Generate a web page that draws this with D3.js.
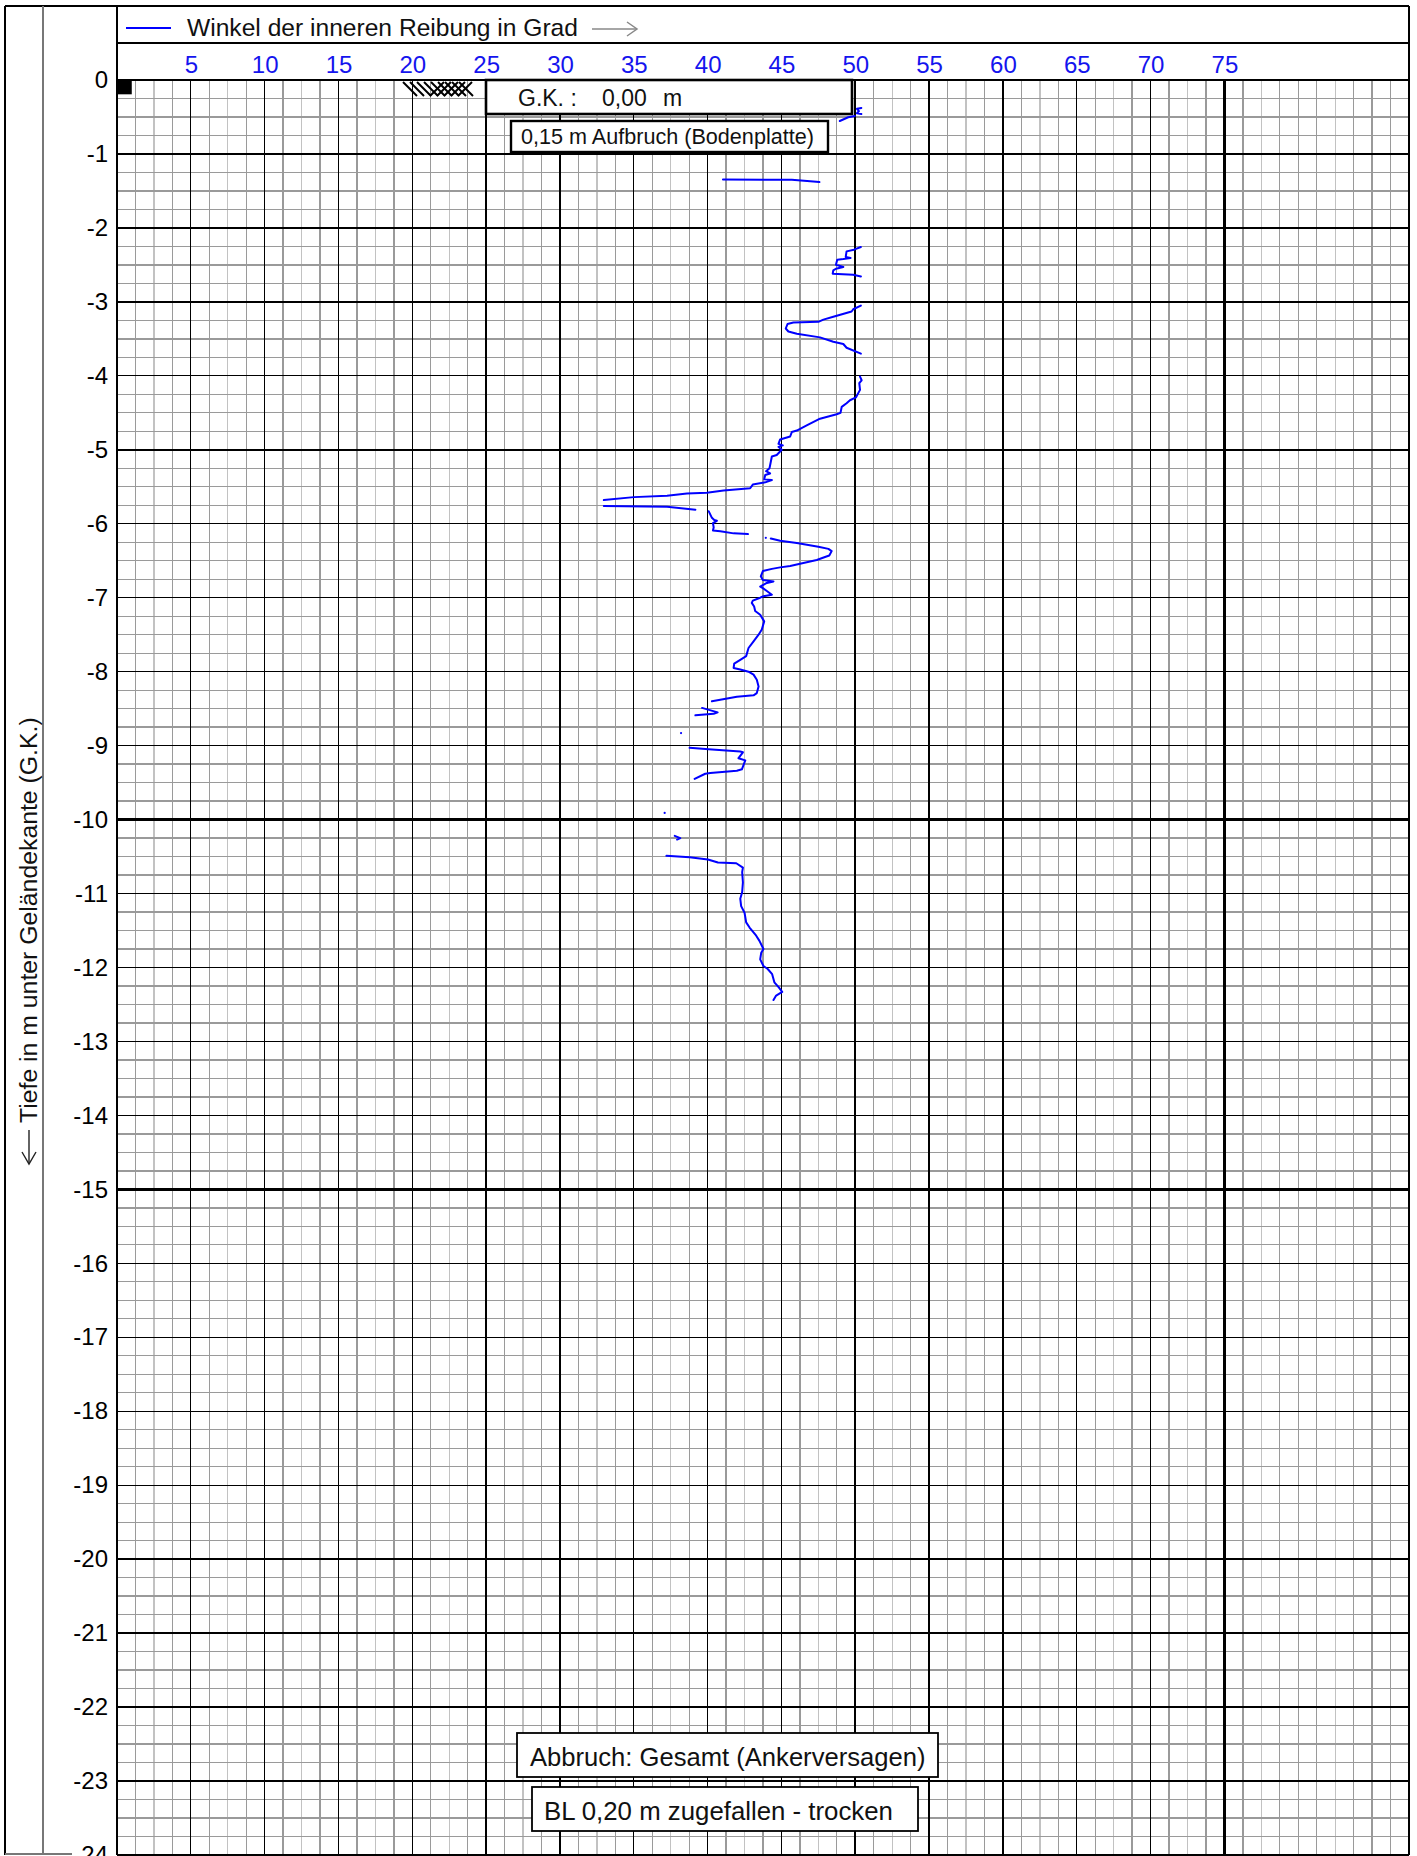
<!DOCTYPE html>
<html>
<head>
<meta charset="utf-8">
<script src="https://cdn.jsdelivr.net/npm/d3@7"></script>
<style>
  body { margin: 0; background: #fff; }
  svg { display: block; }
  text { font-family: "Liberation Sans", Arial, sans-serif; }
</style>
</head>
<body>
<svg id="chart" width="1417" height="1856"></svg>
<script>
// Tick values on both axes
const angleTicks = [5, 10, 15, 20, 25, 30, 35, 40, 45, 50, 55, 60, 65, 70, 75];
const depthTicks = d3.range(0, -25, -1);

// Probe trace: friction angle (degrees) against depth (m below ground level)
const traceTop1 = [[50.41, -0.378], [50.11, -0.39], [50.25, -0.42], [50.11, -0.45], [50.41, -0.46]];
const traceTop2 = [[48.95, -0.554], [49.52, -0.504], [49.97, -0.486]];
const trace1 = [[41.04, -1.344], [45.7, -1.35], [47.57, -1.38]];
const trace2 = [[50.38, -2.258], [49.91, -2.294], [49.41, -2.317], [49.35, -2.394], [49.68, -2.407],
  [49.19, -2.421], [48.78, -2.43], [48.69, -2.498], [49.19, -2.529], [48.69, -2.552], [48.51, -2.575],
  [48.47, -2.62], [49.86, -2.633], [50.38, -2.656]];
const trace3 = [[50.38, -3.05], [49.86, -3.10], [49.75, -3.13], [48.51, -3.20], [47.84, -3.24],
  [47.5, -3.27], [45.81, -3.28], [45.41, -3.30], [45.29, -3.36], [45.47, -3.40], [46.04, -3.43],
  [47.61, -3.48], [48.51, -3.54], [49.19, -3.57], [49.41, -3.62], [50.38, -3.70]];
const trace4 = [[50.32, -4.01], [50.43, -4.06], [50.27, -4.10], [50.32, -4.19], [50.05, -4.29],
  [49.64, -4.33], [49.41, -4.37], [49.08, -4.42], [49.0, -4.50], [48.74, -4.52], [47.61, -4.58],
  [46.71, -4.67], [46.04, -4.74], [45.7, -4.76], [45.59, -4.82], [44.91, -4.86], [44.8, -4.92],
  [45.09, -4.94], [44.8, -4.96], [45.02, -5.0], [44.68, -5.07], [44.35, -5.09], [44.19, -5.25],
  [43.96, -5.29], [44.23, -5.32], [43.9, -5.34], [43.83, -5.40], [44.35, -5.41], [43.9, -5.44],
  [43.06, -5.47], [42.88, -5.52], [41.08, -5.55], [39.95, -5.58], [38.6, -5.59], [37.25, -5.62],
  [35.0, -5.64], [32.97, -5.68]];
const trace5 = [[32.97, -5.76], [37.25, -5.77], [39.17, -5.81]];
const trace6 = [[40.07, -5.83], [40.29, -5.92], [40.45, -5.95], [40.63, -5.96], [40.36, -5.99],
  [40.41, -6.05], [40.36, -6.09], [40.86, -6.10], [41.76, -6.13], [42.73, -6.14]];
const trace7 = [[44.28, -6.20], [44.91, -6.23], [46.04, -6.26], [47.5, -6.31], [48.18, -6.34],
  [48.4, -6.37], [48.24, -6.43], [47.95, -6.45], [47.39, -6.49], [46.26, -6.54], [45.59, -6.57],
  [44.91, -6.59], [44.35, -6.61], [43.74, -6.64], [43.6, -6.71], [43.74, -6.76], [44.46, -6.78],
  [44.01, -6.80], [43.56, -6.85], [43.74, -6.87], [44.01, -6.91], [44.35, -6.96], [43.78, -6.98],
  [43.56, -7.00], [43.06, -7.04], [42.99, -7.07], [43.15, -7.12], [43.22, -7.18], [43.56, -7.23],
  [43.83, -7.32], [43.67, -7.43], [43.45, -7.50], [43.11, -7.59], [42.77, -7.68], [42.61, -7.79],
  [42.21, -7.84], [41.8, -7.89], [41.76, -7.95], [42.21, -7.97], [42.77, -8.0], [43.11, -8.04],
  [43.33, -8.11], [43.45, -8.20], [43.33, -8.29], [43.11, -8.32], [41.98, -8.34], [40.29, -8.40]];
const trace8 = [[39.62, -8.49], [40.68, -8.55], [40.41, -8.57], [39.17, -8.59]];
const trace9 = [[38.78, -9.03], [40.07, -9.05], [42.21, -9.08], [42.39, -9.09], [42.09, -9.17],
  [42.55, -9.20], [42.32, -9.32], [41.98, -9.34], [40.18, -9.37], [39.84, -9.38], [39.12, -9.45]];
const trace10 = [[37.77, -10.22], [38.15, -10.25], [37.93, -10.27]];
const trace11 = [[37.21, -10.49], [38.78, -10.51], [40.02, -10.54], [40.7, -10.58], [41.94, -10.59],
  [42.39, -10.65], [42.34, -10.71], [42.39, -10.85], [42.34, -10.98], [42.21, -11.07], [42.27, -11.17],
  [42.5, -11.26], [42.61, -11.39], [42.84, -11.46], [43.29, -11.57], [43.51, -11.64], [43.78, -11.75],
  [43.63, -11.80], [43.56, -11.89], [43.78, -11.98], [44.07, -12.02], [44.37, -12.09], [44.52, -12.20],
  [44.82, -12.27], [45.05, -12.33], [44.64, -12.38], [44.46, -12.44]];
const traceDots = [[43.94, -6.19], [38.2, -8.83], [37.09, -9.91]];

const traces = [traceTop1, traceTop2, trace1, trace2, trace3, trace4, trace5, trace6,
  trace7, trace8, trace9, trace10, trace11];

// Text annotations
const legendLabel = "Winkel der inneren Reibung in Grad";
const axisTitle = "Tiefe in m unter Geländekante (G.K.)";
const boxTop1 = ["G.K. :", "0,00", "m"];
const boxTop2 = "0,15 m Aufbruch (Bodenplatte)";
const boxBottom1 = "Abbruch: Gesamt (Ankerversagen)";
const boxBottom2 = "BL 0,20 m zugefallen - trocken";

const svg = d3.select("#chart");
const L = 117, R = 1409, T = 80, B = 1855;
const x = d3.scaleLinear().domain([0, 87.5]).range([L, R]);
const y = d3.scaleLinear().domain([0, -24]).range([T, B]);

svg.append("rect").attr("width", 1417).attr("height", 1856).attr("fill", "#fff");

// ---- grid ----
const grid = svg.append("g").attr("shape-rendering", "crispEdges");
// minor verticals every 1.25 deg
d3.range(1, 70).forEach(k => {
  const v = k * 1.25;
  if (k % 4 === 0 && v <= 75) return;
  grid.append("line")
    .attr("x1", x(v)).attr("x2", x(v)).attr("y1", T).attr("y2", B)
    .attr("stroke", k % 4 === 2 ? "#c2c2c2" : "#9a9a9a").attr("stroke-width", 1.3);
});
// minor horizontals every 0.25 m
d3.range(1, 96).forEach(k => {
  if (k % 4 === 0) return;
  const v = -k * 0.25;
  grid.append("line")
    .attr("x1", L).attr("x2", R).attr("y1", y(v)).attr("y2", y(v))
    .attr("stroke", "#9a9a9a").attr("stroke-width", 1.3);
});
// major verticals every 5 deg
angleTicks.forEach(v => {
  grid.append("line")
    .attr("x1", x(v)).attr("x2", x(v)).attr("y1", T).attr("y2", B)
    .attr("stroke", "#000").attr("stroke-width", v % 25 === 0 ? 2.4 : 1.3);
});
// major horizontals every metre
depthTicks.slice(1).forEach(v => {
  grid.append("line")
    .attr("x1", L).attr("x2", R).attr("y1", y(v)).attr("y2", y(v))
    .attr("stroke", "#000").attr("stroke-width", v % 5 === 0 ? 2.4 : 1.3);
});

// ---- frame ----
const frame = svg.append("g").attr("fill", "none").attr("shape-rendering", "crispEdges");
frame.append("line").attr("x1", 5).attr("x2", R).attr("y1", 6).attr("y2", 6).attr("stroke", "#000").attr("stroke-width", 2.5);
frame.append("line").attr("x1", 5).attr("x2", 5).attr("y1", 6).attr("y2", B).attr("stroke", "#000").attr("stroke-width", 2.5);
frame.append("line").attr("x1", 43).attr("x2", 43).attr("y1", 6).attr("y2", B).attr("stroke", "#777").attr("stroke-width", 1.6);
frame.append("line").attr("x1", 5).attr("x2", 72).attr("y1", 1854).attr("y2", 1854).attr("stroke", "#777").attr("stroke-width", 1.6);
frame.append("line").attr("x1", L).attr("x2", L).attr("y1", 6).attr("y2", B).attr("stroke", "#000").attr("stroke-width", 2.6);
frame.append("line").attr("x1", R).attr("x2", R).attr("y1", 6).attr("y2", B).attr("stroke", "#000").attr("stroke-width", 2.6);
frame.append("line").attr("x1", L).attr("x2", R).attr("y1", 43).attr("y2", 43).attr("stroke", "#000").attr("stroke-width", 1.4);
frame.append("line").attr("x1", L).attr("x2", R).attr("y1", T).attr("y2", T).attr("stroke", "#000").attr("stroke-width", 2.6);

// ---- axes ----
const xAxis = svg.append("g").attr("transform", `translate(0,${T})`)
  .call(d3.axisTop(x).tickValues(angleTicks).tickSize(0).tickPadding(7));
xAxis.select(".domain").remove();
xAxis.selectAll("text").attr("font-size", 24).attr("fill", "#1414ee")
  .style("font-family", '"Liberation Sans", Arial, sans-serif');

const yAxis = svg.append("g").attr("transform", `translate(${L},0)`)
  .call(d3.axisLeft(y).tickValues(depthTicks).tickSize(0).tickPadding(9).tickFormat(d => String(d)));
yAxis.select(".domain").remove();
yAxis.selectAll("text").attr("font-size", 24).attr("fill", "#000")
  .style("font-family", '"Liberation Sans", Arial, sans-serif');

// ---- legend ----
svg.append("line").attr("x1", 126).attr("x2", 171).attr("y1", 28).attr("y2", 28)
  .attr("stroke", "#0000ff").attr("stroke-width", 2);
svg.append("text").attr("x", 187).attr("y", 36).attr("font-size", 24.6).attr("fill", "#111").text(legendLabel);
const arrow = svg.append("g").attr("stroke", "#888").attr("stroke-width", 1.5).attr("fill", "none");
arrow.append("line").attr("x1", 592).attr("x2", 637).attr("y1", 29).attr("y2", 29);
arrow.append("path").attr("d", "M627,22 L637,29 L627,36");

// ---- vertical axis title ----
svg.append("text").attr("transform", "translate(37,1123) rotate(-90)")
  .attr("font-size", 24.8).attr("fill", "#111").text(axisTitle);
const vArrow = svg.append("g").attr("stroke", "#222").attr("stroke-width", 1.4).attr("fill", "none");
vArrow.append("line").attr("x1", 29).attr("x2", 29).attr("y1", 1130).attr("y2", 1164);
vArrow.append("path").attr("d", "M22,1152 L29,1164 L36,1152");

// ---- soil symbols at the surface ----
svg.append("rect").attr("x", x(0)).attr("y", y(0) + 1).attr("width", x(1) - x(0)).attr("height", y(-0.18) - y(0))
  .attr("fill", "#000");
const hatch = svg.append("g").attr("stroke", "#000").attr("stroke-width", 2);
d3.range(403, 466, 7).forEach(h => {
  hatch.append("line").attr("x1", h).attr("y1", 82).attr("x2", h + 14).attr("y2", 96);
});
d3.range(430, 460, 7).forEach(h => {
  hatch.append("line").attr("x1", h + 14).attr("y1", 82).attr("x2", h).attr("y2", 96);
});

// ---- annotation boxes ----
function box(x0, y0, w, h, sw) {
  svg.append("rect").attr("x", x0).attr("y", y0).attr("width", w).attr("height", h)
    .attr("fill", "#fff").attr("stroke", "#000").attr("stroke-width", sw);
}
box(486, 80, 366, 34, 2.6);
const gk = svg.append("text").attr("y", 106).attr("font-size", 23).attr("fill", "#111");
gk.append("tspan").attr("x", 518).text(boxTop1[0]);
gk.append("tspan").attr("x", 602).text(boxTop1[1]);
gk.append("tspan").attr("x", 663).text(boxTop1[2]);

box(511, 121, 317, 31, 2.4);
svg.append("text").attr("x", 521).attr("y", 144).attr("font-size", 21.6).attr("fill", "#111").text(boxTop2);

box(517, 1733, 421, 44, 1.8);
svg.append("text").attr("x", 530).attr("y", 1766).attr("font-size", 25.6).attr("fill", "#111").text(boxBottom1);
box(532, 1787, 386, 44, 1.8);
svg.append("text").attr("x", 544).attr("y", 1820).attr("font-size", 25.8).attr("fill", "#111").text(boxBottom2);

// ---- probe trace ----
const line = d3.line().x(d => x(d[0])).y(d => y(d[1]));
svg.append("g").selectAll("path").data(traces).join("path")
  .attr("d", line).attr("fill", "none").attr("stroke", "#0000ff")
  .attr("stroke-width", 2).attr("stroke-linejoin", "round").attr("stroke-linecap", "round");
svg.append("g").selectAll("circle").data(traceDots).join("circle")
  .attr("cx", d => x(d[0])).attr("cy", d => y(d[1])).attr("r", 1.1).attr("fill", "#0000ff");
</script>
</body>
</html>
